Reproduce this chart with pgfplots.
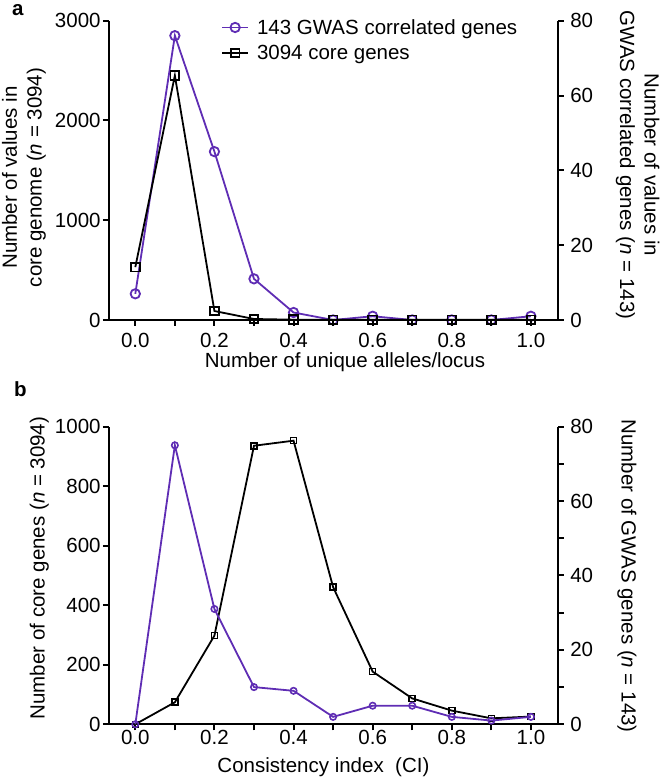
\documentclass[border=0pt]{standalone}
\usepackage{fontspec}
\setmainfont{Liberation Sans}
\usepackage{pgfplots}
\pgfplotsset{compat=1.18}
\definecolor{gwas}{RGB}{95,45,180}
\newcommand{\fs}{\fontsize{20.5}{24.6}\selectfont}

\pgfplotsset{
  base/.style={
    scale only axis,
    width=449pt,
    anchor=south west,
    xmin=-0.067, xmax=1.068,
    tick align=outside,
    major tick length=6pt, minor tick length=6pt,
    tick style={black, line width=2pt},
    axis line style={-, line width=2pt},
    font=\fs,
    clip=false,
  },
  xticks/.style={
    xtick={0,0.2,0.4,0.6,0.8,1.0},
    xticklabels={0.0,0.2,0.4,0.6,0.8,1.0},
    minor xtick={0.1,0.3,0.5,0.7,0.9},
  },
  leftax/.style={base, xticks, axis x line*=bottom, axis y line*=left,
    y tick label style={inner xsep=2pt},
    every axis y label/.style={rotate=90, anchor=center, align=center},
    every axis x label/.style={anchor=center},
  },
  rightax/.style={base, axis x line=none, axis y line*=right,
    xtick=\empty, minor xtick={},
    y tick label style={xshift=3pt},
    every axis y label/.style={rotate=-90, anchor=center, align=center},
  },
  legend image code/.code={
    \draw[mark repeat=2, mark phase=2, #1] plot coordinates {(0pt,0pt) (13pt,0pt) (26pt,0pt)};
  },
}

\begin{document}
\begin{tikzpicture}
\useasboundingbox (0,0) rectangle (661pt,778pt);

% ---------- panel a ----------
\begin{axis}[rightax, at={(108.8pt,458pt)}, height=299.3pt,
  ymin=0, ymax=80, ytick={0,20,40,60,80}, yticklabels={0,20,40,60,80},
  ylabel={Number of values in\\GWAS correlated genes (\textit{n} = 143)},
  ylabel style={at={(axis description cs:1.178,0.518)}},
]
  \addplot[gwas, line width=1.8pt, mark=o, mark size=4.7pt, mark options={line width=1.8pt}]
    coordinates {(0,7) (0.1,76) (0.2,45) (0.3,11) (0.4,2) (0.5,0) (0.6,1) (0.7,0) (0.8,0) (0.9,0) (1.0,1)};
\end{axis}

\begin{axis}[leftax, at={(108.8pt,458pt)}, height=299.3pt,
  x tick label style={yshift=-4pt},
  ymin=0, ymax=3000, ytick={0,1000,2000,3000}, yticklabels={0,1000,2000,3000},
  ylabel={Number of values in\\core genome (\textit{n} = 3094)},
  ylabel style={at={(axis description cs:-0.189,0.476)}},
  xlabel={Number of unique alleles/locus},
  xlabel style={at={(axis description cs:0.526,-0.140)}},
  legend style={draw=none, fill=none, at={(axis description cs:0.250,1.012)}, anchor=north west,
    inner sep=0pt, row sep=5.5pt, font=\fs, nodes={inner sep=2pt, font=\fs},
    /tikz/every odd column/.append style={column sep=6pt}},
  legend cell align=left,
]
  \addlegendimage{gwas, line width=1.8pt, mark=o, mark size=4.7pt, mark options={line width=1.8pt}}
  \addlegendentry{143 GWAS correlated genes}
  \addplot[black, line width=1.8pt, mark=square, mark size=4.3pt, mark options={line width=1.8pt}]
    coordinates {(0,530) (0.1,2450) (0.2,90) (0.3,10) (0.4,3) (0.5,1) (0.6,2) (0.7,1) (0.8,1) (0.9,1) (1.0,1)};
  \addlegendentry{3094 core genes}
\end{axis}

\node[anchor=base west, inner sep=0pt, font=\fs\bfseries] at (12pt,762pt) {a};
\node[anchor=base west, inner sep=0pt, font=\fs\bfseries] at (14pt,381.3pt) {b};

% ---------- panel b ----------
\begin{axis}[leftax, at={(108.8pt,53.7pt)}, height=297.6pt,
  x tick label style={yshift=4pt},
  ymin=0, ymax=1000, ytick={0,200,400,600,800,1000}, yticklabels={0,200,400,600,800,1000},
  ylabel={Number of core genes (\textit{n} = 3094)},
  ylabel style={at={(axis description cs:-0.155,0.525)}},
  xlabel={Consistency index\ \ (CI)},
  xlabel style={at={(axis description cs:0.478,-0.145)}},
]
  \addplot[black, line width=1.8pt, mark=square, mark size=3pt, mark options={line width=1.6pt}]
    coordinates {(0,0) (0.1,74) (0.2,298) (0.3,936) (0.4,953) (0.5,461) (0.6,177) (0.7,87) (0.8,46) (0.9,20) (1.0,26)};
\end{axis}

\begin{axis}[rightax, at={(108.8pt,53.7pt)}, height=297.6pt,
  ymin=0, ymax=80, ytick={0,20,40,60,80}, yticklabels={0,20,40,60,80},
  minor ytick={10,30,50,70},
  ylabel={Number of GWAS genes (\textit{n} = 143)},
  ylabel style={at={(axis description cs:1.154,0.498)}},
]
  \addplot[gwas, line width=1.8pt, mark=o, mark size=3.2pt, mark options={line width=1.6pt}]
    coordinates {(0,0) (0.1,75) (0.2,31) (0.3,10) (0.4,9) (0.5,2) (0.6,5) (0.7,5) (0.8,2) (0.9,1) (1.0,2)};
\end{axis}
\end{tikzpicture}
\end{document}
